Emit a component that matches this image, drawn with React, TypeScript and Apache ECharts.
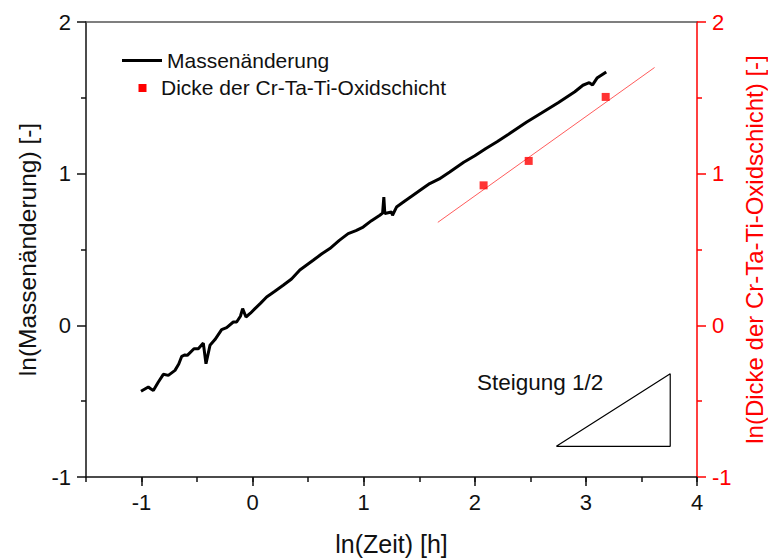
import React, { useEffect, useRef } from "react";
import * as echarts from "echarts";

const xTicks = [-1, 0, 1, 2, 3, 4];

const massX = [
  -1.005, -0.97, -0.939, -0.915, -0.894, -0.85, -0.804, -0.759, -0.699, -0.665,
  -0.638, -0.61, -0.588, -0.528, -0.489, -0.444, -0.42, -0.384, -0.339, -0.279,
  -0.234, -0.174, -0.144, -0.11, -0.09, -0.06, -0.02, 0.021, 0.07, 0.126,
  0.2, 0.275, 0.35, 0.425, 0.545, 0.62, 0.695, 0.78, 0.86, 0.93,
  0.995, 1.07, 1.145, 1.17, 1.181, 1.19, 1.25, 1.259, 1.295, 1.37,
  1.444, 1.52, 1.594, 1.68, 1.774, 1.9, 2.0, 2.1, 2.2, 2.3,
  2.464, 2.6, 2.75, 2.9, 2.973, 3.03, 3.06, 3.1, 3.183,
];
const massY = [
  -0.435, -0.42, -0.407, -0.42, -0.429, -0.375, -0.323, -0.33, -0.297, -0.255,
  -0.204, -0.195, -0.198, -0.154, -0.154, -0.117, -0.253, -0.132, -0.094, -0.028,
  -0.015, 0.022, 0.022, 0.06, 0.11, 0.055, 0.08, 0.11, 0.145, 0.187,
  0.225, 0.264, 0.305, 0.365, 0.429, 0.47, 0.506, 0.56, 0.605, 0.625,
  0.648, 0.69, 0.726, 0.74, 0.846, 0.737, 0.747, 0.726, 0.78, 0.82,
  0.858, 0.897, 0.935, 0.965, 1.011, 1.075, 1.118, 1.166, 1.21, 1.258,
  1.339, 1.4, 1.468, 1.54, 1.583, 1.6, 1.585, 1.63, 1.671,
];

const oxideX = [2.079, 2.485, 3.178];
const oxideY = [0.923, 1.084, 1.506];

const fitX = [1.667, 3.618];
const fitY = [0.679, 1.7];

const triX = [2.734, 3.759, 3.759, 2.734];
const triY = [-0.798, -0.798, -0.319, -0.798];

const FONT = "Liberation Sans, Arial, sans-serif";

export default function App() {
  const ref = useRef<HTMLDivElement>(null);
  useEffect(() => {
    if (!ref.current) return;
    const chart = echarts.init(ref.current, null, { renderer: "svg" });
    const zip = (xs: number[], ys: number[]) => xs.map((x, i) => [x, ys[i]]);
    chart.setOption({
      animation: false,
      backgroundColor: "#fff",
      textStyle: { fontFamily: FONT },
      grid: {
        left: 86,
        right: 71,
        top: 22,
        bottom: 82,
        containLabel: false,
        outerBoundsMode: "none",
      },
      xAxis: [
        {
          type: "value",
          position: "bottom",
          min: -1.5,
          max: 4,
          interval: 0.5,
          name: "ln(Zeit) [h]",
          nameLocation: "middle",
          nameGap: 54,
          nameTextStyle: { fontSize: 25, color: "#111", fontFamily: FONT },
          axisLine: { show: true, onZero: false, lineStyle: { color: "#111", width: 1.5 } },
          axisTick: { show: true, length: 5, lineStyle: { color: "#111", width: 1.5 } },
          axisLabel: {
            customValues: xTicks,
            fontSize: 22,
            color: "#111",
            margin: 14,
            fontFamily: FONT,
          },
          splitLine: { show: false },
        },
        {
          type: "value",
          position: "bottom",
          min: -1.5,
          max: 4,
          axisLine: { show: false, onZero: false },
          axisTick: { show: true, customValues: xTicks, length: 9, lineStyle: { color: "#111", width: 1.5 } },
          axisLabel: { show: false },
          splitLine: { show: false },
        },
        {
          type: "value",
          position: "top",
          min: -1.5,
          max: 4,
          axisLine: { show: true, onZero: false, lineStyle: { color: "#555", width: 1.5 } },
          axisTick: { show: false },
          axisLabel: { show: false },
          splitLine: { show: false },
        },
      ],
      yAxis: [
        {
          type: "value",
          position: "left",
          min: -1,
          max: 2,
          interval: 1,
          name: "ln(Massenänderung) [-]",
          nameLocation: "middle",
          nameRotate: 90,
          nameGap: 46,
          nameTextStyle: { fontSize: 24.5, color: "#111", fontFamily: FONT },
          axisLine: { show: true, onZero: false, lineStyle: { color: "#111", width: 1.5 } },
          axisTick: { show: true, length: 9, lineStyle: { color: "#111", width: 1.5 } },
          minorTick: { show: true, splitNumber: 2, length: 5, lineStyle: { color: "#111", width: 1.5 } },
          axisLabel: { fontSize: 22, color: "#111", margin: 15, fontFamily: FONT },
          splitLine: { show: false },
        },
        {
          type: "value",
          position: "right",
          min: -1,
          max: 2,
          interval: 1,
          name: "ln(Dicke der Cr-Ta-Ti-Oxidschicht) [-]",
          nameLocation: "middle",
          nameRotate: 90,
          nameGap: 45,
          nameTextStyle: { fontSize: 24, color: "#ff0000", fontFamily: FONT },
          axisLine: { show: true, onZero: false, lineStyle: { color: "#ff0000", width: 1.5 } },
          axisTick: { show: true, length: 9, lineStyle: { color: "#ff0000", width: 1.5 } },
          minorTick: { show: true, splitNumber: 2, length: 5, lineStyle: { color: "#ff0000", width: 1.5 } },
          axisLabel: { fontSize: 22, color: "#ff0000", margin: 15, fontFamily: FONT },
          splitLine: { show: false },
        },
      ],
      series: [
        {
          name: "Massenänderung",
          type: "line",
          xAxisIndex: 0,
          yAxisIndex: 0,
          data: zip(massX, massY),
          showSymbol: false,
          symbol: "none",
          lineStyle: { color: "#000", width: 3 },
          z: 3,
        },
        {
          name: "Fit",
          type: "line",
          xAxisIndex: 0,
          yAxisIndex: 1,
          data: zip(fitX, fitY),
          showSymbol: false,
          symbol: "none",
          lineStyle: { color: "#ff5c5c", width: 1 },
          z: 2,
        },
        {
          name: "Dicke der Cr-Ta-Ti-Oxidschicht",
          type: "scatter",
          xAxisIndex: 0,
          yAxisIndex: 1,
          data: zip(oxideX, oxideY),
          symbol: "rect",
          symbolSize: 8,
          itemStyle: { color: "#ff0000" },
          z: 4,
        },
        {
          name: "Steigung",
          type: "line",
          xAxisIndex: 0,
          yAxisIndex: 0,
          data: zip(triX, triY),
          showSymbol: false,
          symbol: "none",
          lineStyle: { color: "#000", width: 1.2 },
          z: 2,
        },
      ],
      graphic: [
        {
          type: "line",
          shape: { x1: 122, y1: 60.5, x2: 162, y2: 60.5 },
          style: { stroke: "#000", lineWidth: 3 },
        },
        {
          type: "text",
          x: 167,
          y: 60,
          style: {
            text: "Massenänderung",
            fontSize: 21,
            fontFamily: FONT,
            fill: "#111",
            verticalAlign: "middle",
            textAlign: "left",
          },
        },
        {
          type: "rect",
          shape: { x: 138.5, y: 84, width: 8, height: 8 },
          style: { fill: "#ff0000" },
        },
        {
          type: "text",
          x: 161,
          y: 87,
          style: {
            text: "Dicke der Cr-Ta-Ti-Oxidschicht",
            fontSize: 21,
            fontFamily: FONT,
            fill: "#111",
            verticalAlign: "middle",
            textAlign: "left",
          },
        },
        {
          type: "text",
          x: 477,
          y: 382,
          style: {
            text: "Steigung 1/2",
            fontSize: 22.5,
            fontFamily: FONT,
            fill: "#111",
            verticalAlign: "middle",
            textAlign: "left",
          },
        },
      ],
    });
    return () => chart.dispose();
  }, []);
  return (
    <div
      ref={ref}
      style={{ position: "absolute", left: 0, top: 0, width: 768, height: 559 }}
    />
  );
}
